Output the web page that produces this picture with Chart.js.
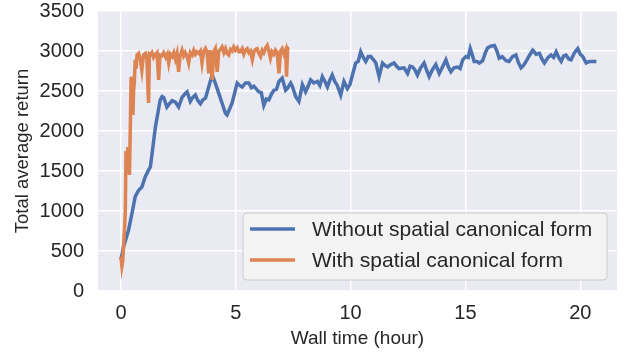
<!DOCTYPE html>
<html>
<head>
<meta charset="utf-8">
<script src="https://cdn.jsdelivr.net/npm/chart.js@4.4.1/dist/chart.umd.min.js"></script>
<style>
  body { margin: 0; background: #ffffff; }
  canvas { display: block; }
</style>
</head>
<body>
<canvas id="returnChart" width="627" height="353"></canvas>
<script>
// Without spatial canonical form
const blueHours = [0, 0.11, 0.33, 0.5, 0.62, 0.77, 0.91, 1.06, 1.2, 1.28, 1.5, 1.71, 1.79, 1.86, 2.0, 2.08, 2.23, 2.37, 2.51, 2.66, 2.8, 2.88, 3.02, 3.13, 3.24, 3.35, 3.46, 3.57, 3.68, 3.82, 3.97, 4.08, 4.19, 4.4, 4.55, 4.62, 4.84, 5.06, 5.17, 5.28, 5.42, 5.57, 5.68, 5.79, 6.0, 6.11, 6.22, 6.33, 6.44, 6.55, 6.66, 6.77, 6.88, 7.02, 7.17, 7.24, 7.39, 7.46, 7.61, 7.75, 7.9, 8.04, 8.15, 8.26, 8.4, 8.55, 8.66, 8.77, 8.88, 8.99, 9.1, 9.2, 9.31, 9.42, 9.57, 9.71, 9.86, 9.97, 10.08, 10.22, 10.33, 10.44, 10.55, 10.66, 10.77, 10.88, 11.0, 11.1, 11.24, 11.39, 11.5, 11.61, 11.75, 11.89, 12.0, 12.11, 12.33, 12.48, 12.59, 12.7, 12.81, 12.91, 13.05, 13.2, 13.31, 13.42, 13.55, 13.71, 13.86, 14.0, 14.15, 14.26, 14.37, 14.5, 14.66, 14.77, 14.88, 15.02, 15.12, 15.21, 15.3, 15.38, 15.5, 15.6, 15.75, 15.87, 15.97, 16.1, 16.26, 16.37, 16.47, 16.6, 16.77, 16.9, 17.05, 17.2, 17.3, 17.42, 17.53, 17.64, 17.8, 17.93, 18.08, 18.22, 18.33, 18.44, 18.6, 18.73, 18.84, 18.95, 19.06, 19.17, 19.28, 19.38, 19.5, 19.6, 19.75, 19.89, 20.0, 20.11, 20.26, 20.4, 20.55, 20.7];
const blueReturn = [390, 550, 760, 1000, 1180, 1260, 1300, 1430, 1510, 1550, 2050, 2390, 2430, 2420, 2300, 2330, 2380, 2360, 2300, 2420, 2470, 2490, 2370, 2420, 2450, 2380, 2340, 2390, 2410, 2550, 2700, 2620, 2530, 2350, 2220, 2200, 2350, 2600, 2570, 2550, 2600, 2600, 2540, 2560, 2490, 2480, 2320, 2400, 2390, 2460, 2510, 2520, 2620, 2660, 2510, 2530, 2600, 2560, 2430, 2370, 2580, 2490, 2560, 2640, 2600, 2620, 2570, 2680, 2620, 2550, 2640, 2700, 2620, 2570, 2450, 2620, 2530, 2580, 2700, 2850, 2870, 2990, 2920, 2870, 2930, 2930, 2890, 2850, 2680, 2850, 2820, 2800, 2830, 2850, 2810, 2780, 2790, 2720, 2810, 2800, 2760, 2700, 2790, 2850, 2760, 2680, 2760, 2830, 2720, 2800, 2890, 2800, 2740, 2790, 2800, 2780, 2890, 2930, 2920, 3030, 2950, 2870, 2870, 2850, 2880, 2980, 3040, 3060, 3070, 3000, 2910, 2930, 2880, 2870, 2930, 2950, 2860, 2790, 2820, 2870, 2950, 3010, 2960, 2970, 2900, 2850, 2920, 2950, 2920, 2990, 2920, 2870, 2940, 2950, 2900, 2890, 2980, 3030, 2960, 2930, 2850, 2870, 2870, 2870];

// With spatial canonical form
const orangeHours = [0, 0.04, 0.08, 0.12, 0.16, 0.19, 0.22, 0.26, 0.3, 0.33, 0.37, 0.41, 0.44, 0.48, 0.52, 0.55, 0.58, 0.62, 0.66, 0.7, 0.77, 0.84, 0.91, 0.98, 1.06, 1.13, 1.2, 1.24, 1.28, 1.35, 1.42, 1.5, 1.57, 1.64, 1.7, 1.78, 1.86, 1.95, 2.02, 2.08, 2.15, 2.23, 2.3, 2.37, 2.44, 2.51, 2.57, 2.66, 2.73, 2.8, 2.88, 2.95, 3.02, 3.1, 3.17, 3.24, 3.31, 3.39, 3.46, 3.53, 3.6, 3.68, 3.75, 3.82, 3.88, 3.97, 4.04, 4.11, 4.19, 4.26, 4.33, 4.4, 4.48, 4.55, 4.62, 4.69, 4.77, 4.84, 4.91, 4.98, 5.06, 5.13, 5.2, 5.28, 5.35, 5.42, 5.5, 5.57, 5.64, 5.72, 5.8, 5.86, 5.93, 6.0, 6.08, 6.15, 6.22, 6.3, 6.37, 6.44, 6.51, 6.58, 6.66, 6.73, 6.8, 6.88, 6.95, 7.02, 7.1, 7.17, 7.21, 7.26, 7.31];
const orangeReturn = [430, 310, 380, 600, 800, 1010, 1750, 1510, 1800, 1700, 1450, 2100, 2650, 2680, 2200, 2500, 2600, 2890, 2780, 2950, 2970, 2900, 2760, 2950, 2970, 2900, 2350, 2960, 2950, 2980, 2920, 2960, 2980, 2640, 2950, 2940, 2980, 2920, 2960, 2850, 2960, 2930, 2980, 2900, 2970, 2740, 2930, 3010, 2940, 2980, 2930, 2850, 2980, 2950, 3010, 2960, 2990, 2970, 3000, 2850, 2990, 3030, 2980, 2720, 3010, 2640, 2990, 3030, 2740, 3000, 3020, 3050, 2980, 3030, 2970, 2950, 3020, 3000, 3050, 3010, 3040, 2990, 2990, 3030, 2960, 3010, 3030, 2980, 3000, 2890, 3000, 3020, 3030, 2970, 2930, 3010, 2980, 3040, 3070, 3000, 2910, 2990, 2960, 3010, 2980, 2720, 3000, 3030, 2960, 3010, 2680, 3040, 3050];

const seriesLabels = ['Without spatial canonical form', 'With spatial canonical form'];
const xTicks = [0, 5, 10, 15, 20];
const yTicks = [0, 500, 1000, 1500, 2000, 2500, 3000, 3500];

const FONT = "'Liberation Sans', Arial, sans-serif";
const TEXT = '#262626';

const toPoints = (xs, ys) => xs.map((x, i) => ({ x: x, y: ys[i] }));

// seaborn style gray panel behind the plot
const panelBackground = {
    id: 'panelBackground',
    beforeDraw(chart) {
        const { ctx, chartArea } = chart;
        ctx.save();
        ctx.fillStyle = '#EAEAF2';
        ctx.fillRect(chartArea.left, chartArea.top, chartArea.right - chartArea.left, chartArea.bottom - chartArea.top);
        ctx.restore();
    }
};

// legend box in the lower right corner of the plot
const insideLegend = {
    id: 'insideLegend',
    afterDraw(chart) {
        const ctx = chart.ctx;
        const area = chart.chartArea;
        const w = 364, h = 67;
        const x = area.right - 10 - w;
        const y = area.bottom - 11 - h;
        ctx.save();
        ctx.beginPath();
        ctx.roundRect(x, y, w, h, 4);
        ctx.fillStyle = 'rgba(243, 243, 243, 0.95)';
        ctx.fill();
        ctx.strokeStyle = '#CCCCCC';
        ctx.lineWidth = 1;
        ctx.stroke();
        ctx.font = '21px ' + FONT;
        ctx.textBaseline = 'middle';
        ctx.fillStyle = TEXT;
        const rows = [y + 16, y + 47];
        chart.data.datasets.forEach((ds, i) => {
            ctx.beginPath();
            ctx.moveTo(x + 7, rows[i]);
            ctx.lineTo(x + 52, rows[i]);
            ctx.strokeStyle = ds.borderColor;
            ctx.lineWidth = 3.5;
            ctx.stroke();
            ctx.fillText(ds.label, x + 69, rows[i] + 1);
        });
        ctx.restore();
    }
};

document.addEventListener('DOMContentLoaded', function() {
    const ctx = document.getElementById('returnChart').getContext('2d');
    new Chart(ctx, {
        type: 'line',
        data: {
            datasets: [
                {
                    label: seriesLabels[0],
                    data: toPoints(blueHours, blueReturn),
                    borderColor: '#4C72B0',
                    borderWidth: 3.5,
                    pointRadius: 0,
                    tension: 0,
                    order: 1
                },
                {
                    label: seriesLabels[1],
                    data: toPoints(orangeHours, orangeReturn),
                    borderColor: '#DD8452',
                    borderWidth: 3.5,
                    pointRadius: 0,
                    tension: 0,
                    order: 0
                }
            ]
        },
        options: {
            responsive: false,
            animation: false,
            layout: {
                padding: { left: 0, right: 10, top: 11, bottom: 0 }
            },
            scales: {
                x: {
                    type: 'linear',
                    min: -1.0,
                    max: 21.6,
                    afterBuildTicks: axis => { axis.ticks = xTicks.map(v => ({ value: v })); },
                    afterFit: scale => {
                        scale.height = 62;
                        scale.paddingLeft = 0;
                        scale.paddingRight = 0;
                    },
                    grid: { color: '#FFFFFF', lineWidth: 1.5, drawTicks: false },
                    border: { display: false },
                    ticks: { color: TEXT, font: { family: FONT, size: 20 }, padding: 10, maxRotation: 0, callback: v => String(v) },
                    title: { display: true, text: 'Wall time (hour)', color: TEXT, font: { family: FONT, size: 19 }, padding: { top: 0, bottom: 3 } }
                },
                y: {
                    min: 0,
                    max: 3500,
                    afterBuildTicks: axis => { axis.ticks = yTicks.map(v => ({ value: v })); },
                    afterFit: scale => {
                        scale.width = 98;
                        scale.paddingTop = 0;
                        scale.paddingBottom = 0;
                    },
                    grid: { color: '#FFFFFF', lineWidth: 1.5, drawTicks: false },
                    border: { display: false },
                    ticks: { color: TEXT, font: { family: FONT, size: 20 }, padding: 14, callback: v => String(v) },
                    title: { display: true, text: 'Total average return', color: TEXT, font: { family: FONT, size: 18.5 }, padding: { top: 12, bottom: 0 } }
                }
            },
            plugins: {
                legend: { display: false },
                tooltip: { enabled: false }
            }
        },
        plugins: [panelBackground, insideLegend]
    });
});
</script>
</body>
</html>
